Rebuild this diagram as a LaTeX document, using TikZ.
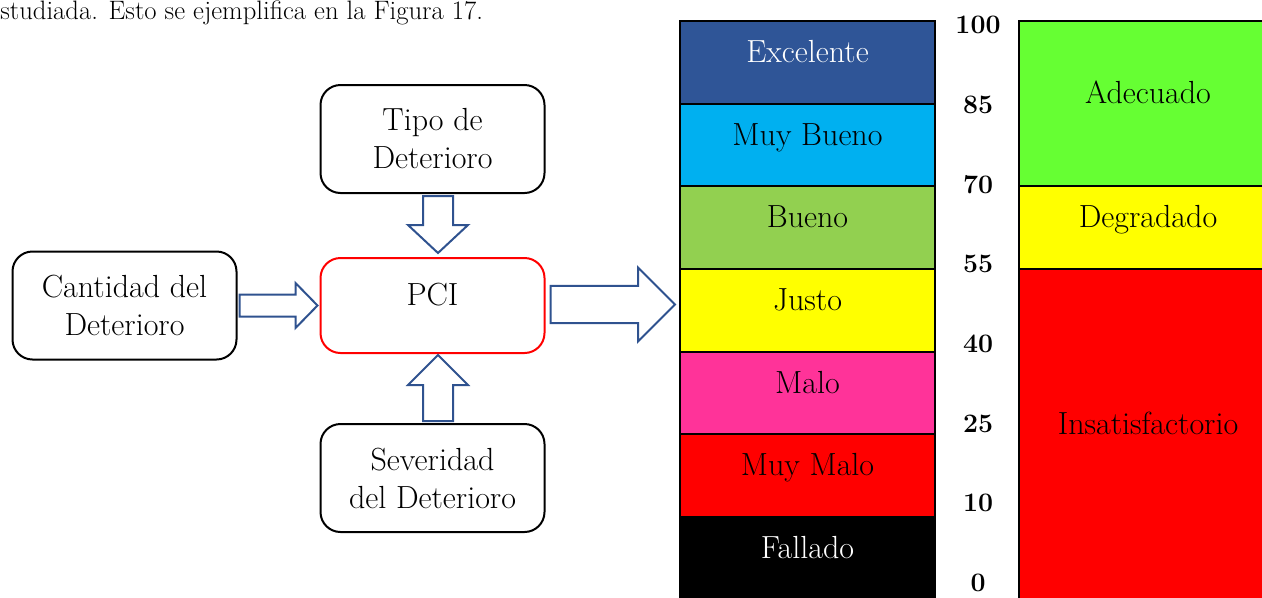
\documentclass[tikz,border=0pt]{standalone}
\usepackage{fontspec}
\usetikzlibrary{positioning, calc}
\definecolor{arrowblue}{HTML}{2F528F}
\definecolor{excelenteblue}{HTML}{2F5597}
\definecolor{muybuenocyan}{HTML}{00B0F0}
\definecolor{buenogreen}{HTML}{92D050}
\definecolor{justoyellow}{HTML}{FFFF00}
\definecolor{malopink}{HTML}{FF3399}
\definecolor{muymalored}{HTML}{FF0000}
\definecolor{adecuadogreen}{HTML}{66FF33}

% block arrow: from, to, shaft half width, head half width, head length
\newcommand{\blockarrow}[5]{%
  \coordinate (headbase) at ($(#2)!#5!(#1)$);
  \draw[blockline] ($(#1)!#3!90:(#2)$) -- ($(headbase)!#3!90:(#2)$) -- ($(headbase)!#4!90:(#2)$) -- (#2)
    -- ($(headbase)!#4!-90:(#2)$) -- ($(headbase)!#3!-90:(#2)$) -- ($(#1)!#3!-90:(#2)$) -- cycle;
}

\begin{document}
\begin{tikzpicture}[x=0.75pt, y=-0.75pt, font=\fontsize{24}{28.5}\selectfont]
    % Define styles
    \tikzset{
        box/.style={draw, line width=1.5pt, rounded corners=15pt, minimum width=168pt, minimum height=81pt, align=center, inner sep=0pt},
        pcibox/.style={box, draw=red, minimum height=71.25pt, text height=15pt, text depth=15pt},
        band/.style={draw, line width=1.5pt, outer sep=0pt, inner sep=0pt, minimum width=191.25pt, minimum height=62pt, text height=15pt, text depth=15pt},
        level/.style={band, minimum width=193.5pt},
        score/.style={font=\fontsize{20}{24}\selectfont\bfseries},
        blockline/.style={draw=arrowblue, line width=1.5pt, fill=white, line join=miter}
    }
    \useasboundingbox (0,0) rectangle (1262,597);
    \clip (0,0) rectangle (1262,597);

    % Text line above the figure
    \node[anchor=base west, inner sep=0pt, font=\fontsize{20}{24}\selectfont] (bodytext) at (0,19) {studiada. Esto se ejemplifica en la Figura 17.};

    % Nodes
    \node[pcibox] (pci) at (432.5,305.5) {PCI};
    \node[box, above=47.25pt of pci] (tipo) {Tipo de\\Deterioro};
    \node[box, below=51.75pt of pci] (severidad) {Severidad\\del Deterioro};
    \node[box, left=61.5pt of pci] (cantidad) {Cantidad del\\Deterioro};

    % Condition scale
    \node[band, anchor=north, fill=excelenteblue, text=white] (excelente) at (807.5,21) {Excelente};
    \node[band, below=0pt of excelente, fill=muybuenocyan] (muybueno) {Muy Bueno};
    \node[band, below=0pt of muybueno, fill=buenogreen] (bueno) {Bueno};
    \node[band, below=0pt of bueno, fill=justoyellow] (justo) {Justo};
    \node[band, below=0pt of justo, fill=malopink] (malo) {Malo};
    \node[band, below=0pt of malo, fill=muymalored] (muymalo) {Muy Malo};
    \node[band, below=0pt of muymalo, fill=black, text=white] (fallado) {Fallado};

    % Score values
    \foreach \val [count=\i] in {100,85,70,55,40,25,10,0}
        \node[score] (score\val) at (978,{25+79.7*(\i-1)}) {\val};

    % Service levels
    \node[level, anchor=north, minimum height=123.75pt, fill=adecuadogreen] (adecuado) at (1148,21) {Adecuado};
    \node[level, below=0pt of adecuado, minimum height=62.25pt, fill=justoyellow] (degradado) {Degradado};
    \node[level, below=0pt of degradado, minimum height=248pt, fill=muymalored] (insatisfactorio) {Insatisfactorio};

    % Arrows
    \coordinate (tipo-out) at ($(tipo.south)+(5.5,2)$);
    \coordinate (pci-top) at ($(pci.north)+(5.5,-4)$);
    \coordinate (sev-out) at ($(severidad.north)+(5.5,-2)$);
    \coordinate (pci-bottom) at ($(pci.south)+(5.5,1)$);
    \coordinate (cant-out) at ($(cantidad.east)+(2,0)$);
    \coordinate (pci-left) at ($(pci.west)+(-2,0)$);
    \coordinate (pci-out) at ($(pci.east)+(5,-1)$);
    \coordinate (scale-in) at ($(pci-out -| justo.west)+(-5,0)$);
    \blockarrow{tipo-out}{pci-top}{11.25pt}{22.5pt}{21pt}
    \blockarrow{sev-out}{pci-bottom}{11.25pt}{22.5pt}{22.5pt}
    \blockarrow{cant-out}{pci-left}{8.25pt}{16.9pt}{16.5pt}
    \blockarrow{pci-out}{scale-in}{13.9pt}{27.75pt}{27.75pt}
\end{tikzpicture}
\end{document}
